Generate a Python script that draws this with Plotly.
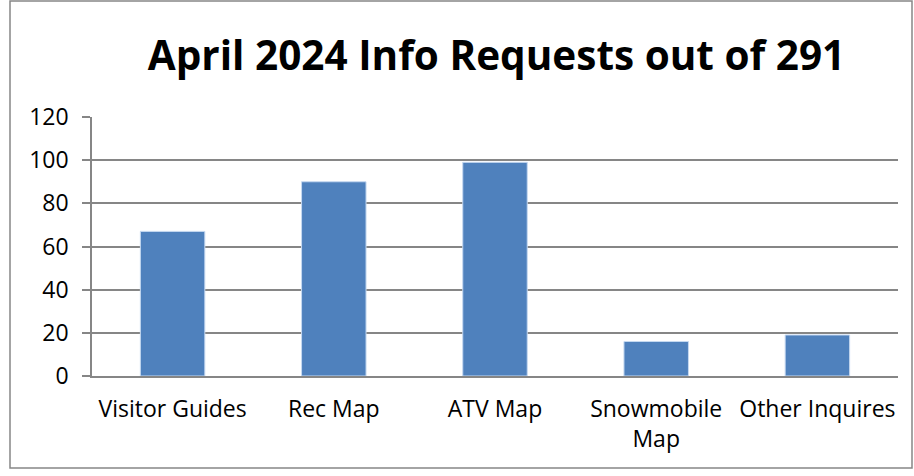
import plotly.graph_objects as go

categories = ["Visitor Guides", "Rec Map", "ATV Map", "Snowmobile<br>Map", "Other Inquires"]
values = [67, 90, 99, 16, 19]
y_ticks = [0, 20, 40, 60, 80, 100, 120]
title_text = "April 2024 Info Requests out of 291"

W, H = 914, 476
L, R, T, B = 92, 16, 117, 100
pw, ph = W - L - R, H - T - B

fig = go.Figure(go.Bar(
    x=categories, y=values,
    marker=dict(color="#4F81BD", line=dict(color="#C6D9F1", width=1)),
    width=0.4,
))

def px_x(x):
    return (x - L) / pw

def px_y(y):
    return (H - B - y) / ph

fig.update_layout(
    width=W, height=H,
    margin=dict(l=L, r=R, t=T, b=B),
    paper_bgcolor="white", plot_bgcolor="white",
    font=dict(family="Open Sans, sans-serif", size=23, color="black"),
    title=dict(text=title_text, x=496.5 / W, xanchor="center", y=1 - 56 / H, yanchor="middle",
               font=dict(size=40.5, family="Open Sans, sans-serif", color="black", weight="bold")),
    showlegend=False,
    xaxis=dict(showline=True, linecolor="#868686", linewidth=1.5, ticks="", showgrid=False,
               tickfont=dict(size=23), range=[-0.5, 4.5], ticklabelstandoff=12),
    yaxis=dict(range=[0, 120], tickvals=y_ticks, showgrid=True, gridcolor="#868686", gridwidth=1.5,
               showline=True, linecolor="#868686", linewidth=1.5, ticks="outside", ticklen=8,
               tickcolor="#868686", tickwidth=1.5, tickfont=dict(size=23), zeroline=False,
               ticklabelstandoff=9),
    shapes=[dict(type="rect", xref="paper", yref="paper",
                 x0=px_x(10), x1=px_x(912), y0=px_y(468), y1=px_y(1),
                 line=dict(color="#868686", width=1.5))],
)

fig.write_html("out.html", config={"displayModeBar": False},
               post_script="document.body.style.margin='0';")
